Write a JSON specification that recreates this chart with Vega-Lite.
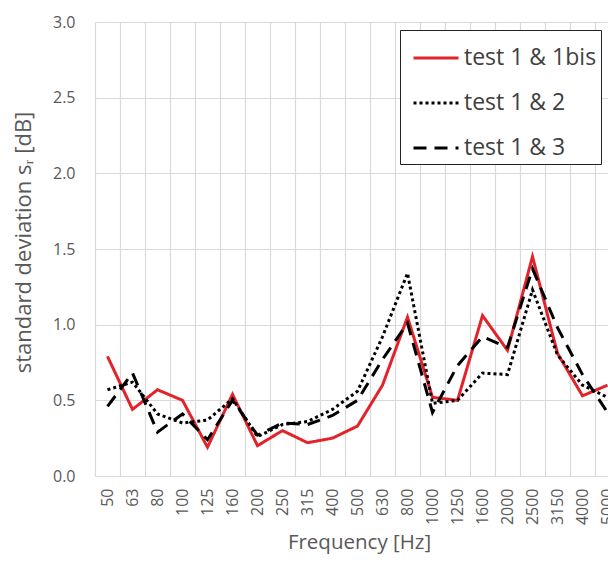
{
  "$schema": "https://vega.github.io/schema/vega-lite/v6.json",
  "autosize": {"type": "none"},
  "padding": {"left": 95, "top": 22, "right": 0, "bottom": 96},
  "width": 525,
  "height": 454,
  "background": "white",
  "config": {
    "font": "Open Sans",
    "view": {"stroke": null},
    "axis": {"labelColor": "#595959", "titleColor": "#595959", "titleFontWeight": "normal", "gridColor": "#d9d9d9", "gridWidth": 1.2, "domain": false, "ticks": false}
  },
  "data": {
    "values": [
      {"f": "50", "test 1 & 1bis": 0.79, "test 1 & 2": 0.57, "test 1 & 3": 0.46},
      {"f": "63", "test 1 & 1bis": 0.44, "test 1 & 2": 0.62, "test 1 & 3": 0.68},
      {"f": "80", "test 1 & 1bis": 0.57, "test 1 & 2": 0.41, "test 1 & 3": 0.29},
      {"f": "100", "test 1 & 1bis": 0.50, "test 1 & 2": 0.35, "test 1 & 3": 0.41},
      {"f": "125", "test 1 & 1bis": 0.19, "test 1 & 2": 0.37, "test 1 & 3": 0.24},
      {"f": "160", "test 1 & 1bis": 0.54, "test 1 & 2": 0.51, "test 1 & 3": 0.50},
      {"f": "200", "test 1 & 1bis": 0.20, "test 1 & 2": 0.26, "test 1 & 3": 0.27},
      {"f": "250", "test 1 & 1bis": 0.30, "test 1 & 2": 0.34, "test 1 & 3": 0.35},
      {"f": "315", "test 1 & 1bis": 0.22, "test 1 & 2": 0.36, "test 1 & 3": 0.34},
      {"f": "400", "test 1 & 1bis": 0.25, "test 1 & 2": 0.44, "test 1 & 3": 0.40},
      {"f": "500", "test 1 & 1bis": 0.33, "test 1 & 2": 0.56, "test 1 & 3": 0.50},
      {"f": "630", "test 1 & 1bis": 0.60, "test 1 & 2": 0.92, "test 1 & 3": 0.77},
      {"f": "800", "test 1 & 1bis": 1.05, "test 1 & 2": 1.34, "test 1 & 3": 1.01},
      {"f": "1000", "test 1 & 1bis": 0.52, "test 1 & 2": 0.48, "test 1 & 3": 0.42},
      {"f": "1250", "test 1 & 1bis": 0.50, "test 1 & 2": 0.50, "test 1 & 3": 0.73},
      {"f": "1600", "test 1 & 1bis": 1.06, "test 1 & 2": 0.68, "test 1 & 3": 0.92},
      {"f": "2000", "test 1 & 1bis": 0.83, "test 1 & 2": 0.67, "test 1 & 3": 0.85},
      {"f": "2500", "test 1 & 1bis": 1.45, "test 1 & 2": 1.23, "test 1 & 3": 1.37},
      {"f": "3150", "test 1 & 1bis": 0.81, "test 1 & 2": 0.80, "test 1 & 3": 0.98},
      {"f": "4000", "test 1 & 1bis": 0.53, "test 1 & 2": 0.60, "test 1 & 3": 0.67},
      {"f": "5000", "test 1 & 1bis": 0.60, "test 1 & 2": 0.52, "test 1 & 3": 0.42}
    ]
  },
  "transform": [
    {"fold": ["test 1 & 1bis", "test 1 & 2", "test 1 & 3"], "as": ["series", "v"]}
  ],
  "mark": {"type": "line", "strokeWidth": 3},
  "encoding": {
    "x": {
      "field": "f", "type": "ordinal", "sort": null, "bandPosition": 0.5,
      "scale": {"type": "band", "paddingInner": 0, "paddingOuter": 0},
      "axis": {"title": "Frequency [Hz]", "labelAngle": -90, "labelAlign": "right", "labelBaseline": "middle", "labelFontSize": 16, "labelPadding": 12, "titleFontSize": 20.5, "titlePadding": 8, "titleX": 264, "grid": true, "bandPosition": 0}
    },
    "y": {
      "field": "v", "type": "quantitative",
      "scale": {"domain": [0, 3]},
      "axis": {"title": "standard deviation sᵣ [dB]", "values": [0, 0.5, 1, 1.5, 2, 2.5, 3], "format": ".1f", "labelFontSize": 16, "labelPadding": 20, "titleFontSize": 22, "titlePadding": 17, "titleY": 220}
    },
    "color": {
      "field": "series", "type": "nominal", "title": null,
      "scale": {"domain": ["test 1 & 1bis", "test 1 & 2", "test 1 & 3"], "range": ["#e3232b", "#000000", "#000000"]},
      "legend": {"orient": "none", "legendX": 305, "legendY": 8, "strokeColor": "#222", "fillColor": "white", "padding": 4, "symbolOffset": 8, "symbolType": "stroke", "symbolSize": 2025, "symbolStrokeWidth": 3, "labelFontSize": 23, "labelColor": "#404040", "labelOffset": 4, "rowPadding": 9, "labelLimit": 300}
    },
    "strokeDash": {
      "field": "series", "type": "nominal", "title": null,
      "scale": {"domain": ["test 1 & 1bis", "test 1 & 2", "test 1 & 3"], "range": [[1, 0], [3, 3], [13, 8]]}
    }
  }
}
